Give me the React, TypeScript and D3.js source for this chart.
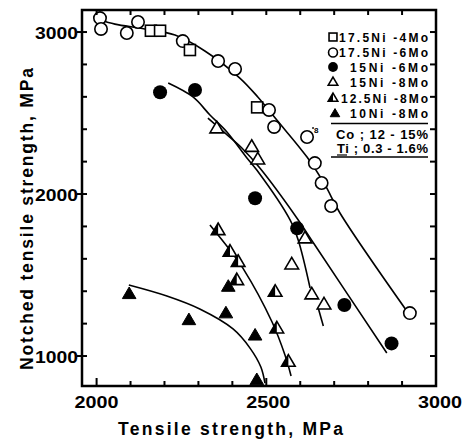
import React from "react";
import * as d3 from "d3";

type P = [number, number];

// ---- data (Tensile strength MPa, Notched tensile strength MPa) ----
const ni175Mo4: P[] = [[2160, 3008], [2187, 3008], [2275, 2889], [2473, 2535]];
const ni175Mo6: P[] = [
  [2010, 3086], [2013, 3019], [2089, 2994], [2122, 3062], [2254, 2944], [2358, 2821],
  [2408, 2772], [2508, 2519], [2523, 2414], [2620, 2352], [2643, 2191], [2663, 2068],
  [2691, 1926], [2923, 1265],
];
const ni15Mo6: P[] = [[2187, 2628], [2290, 2642], [2467, 1974], [2591, 1788], [2730, 1315], [2869, 1078]];
const ni15Mo8: P[] = [[2354, 2406], [2457, 2292], [2475, 2214], [2614, 1727], [2575, 1566], [2634, 1381], [2670, 1319]];
const ni125Mo8: P[] = [[2358, 1778], [2393, 1644], [2417, 1582], [2413, 1469], [2526, 1397], [2531, 1171], [2565, 965]];
const ni10Mo8: P[] = [[2096, 1383], [2272, 1222], [2381, 1264], [2388, 1428], [2467, 1127], [2472, 852]];

// fitted trend curves
const curve175: P[] = [
  [2010, 3074], [2054, 3049], [2142, 3019], [2231, 2981], [2319, 2883], [2422, 2716],
  [2475, 2599], [2531, 2457], [2620, 2228], [2673, 2056], [2717, 1883], [2915, 1275],
];
const curveA: P[] = [
  [2211, 2685], [2284, 2599], [2334, 2488], [2384, 2383], [2443, 2222], [2472, 2148],
  [2570, 1840], [2594, 1716], [2629, 1420],
];
const curveATail: P[] = [[2653, 1296], [2668, 1185]];
const curveB: P[] = [[2328, 2469], [2378, 2377], [2428, 2284], [2481, 2160], [2590, 1852], [2643, 1685], [2855, 1019]];
const curveC: P[] = [[2334, 1809], [2393, 1654], [2431, 1543], [2517, 1210], [2555, 1006], [2573, 877]];
const curveD: P[] = [[2095, 1438], [2207, 1370], [2304, 1290], [2402, 1167], [2452, 1049], [2484, 932], [2496, 833]];

const xLabelTicks = [2000, 2500, 3000];
const yLabelTicks = [1000, 2000, 3000];
const xMinorTicks = [2000, 2100, 2200, 2300, 2400, 2500, 2600, 2700, 2800, 2900];
const yMinorTicks = [1000, 1200, 1400, 1600, 1800, 2000, 2200, 2400, 2600, 2800, 3000];

const legendLabels = ["17.5Ni -4Mo", "17.5Ni -6Mo", "15Ni -6Mo", "15Ni -8Mo", "12.5Ni -8Mo", "10Ni -8Mo"];
const noteLabels = ["Co ; 12 - 15%", "Ti ; 0.3 - 1.6%"];

const FONT = "'Liberation Sans', Arial, Helvetica, sans-serif";

type Kind = "square" | "circle" | "dot" | "tri" | "halftri" | "filltri";

function Marker({ cx, cy, kind, s = 1 }: { cx: number; cy: number; kind: Kind; s?: number }) {
  const sw = 1.6;
  if (kind === "square") {
    const h = 5.5 * s;
    return <rect x={cx - h} y={cy - h} width={2 * h} height={2 * h} fill="#fff" stroke="#000" strokeWidth={sw} />;
  }
  if (kind === "circle") return <circle cx={cx} cy={cy} r={6.2 * s} fill="#fff" stroke="#000" strokeWidth={sw} />;
  if (kind === "dot") return <circle cx={cx} cy={cy} r={7 * s} fill="#000" />;
  const t = `M${cx},${cy - 7 * s}L${cx + 6.8 * s},${cy + 4.6 * s}L${cx - 6.8 * s},${cy + 4.6 * s}Z`;
  if (kind === "tri") return <path d={t} fill="#fff" stroke="#000" strokeWidth={sw} strokeLinejoin="miter" />;
  if (kind === "filltri") return <path d={t} fill="#000" stroke="#000" strokeWidth={1} />;
  const half = `M${cx},${cy - 7 * s}L${cx},${cy + 4.6 * s}L${cx - 6.8 * s},${cy + 4.6 * s}Z`;
  return (
    <g>
      <path d={t} fill="#fff" stroke="#000" strokeWidth={sw} />
      <path d={half} fill="#000" />
    </g>
  );
}

export default function App() {
  const W = 468, H = 443;
  const left = 82, right = 436, top = 10, bottom = 386;
  const x = d3.scaleLinear().domain([1957, 3000]).range([left, right]);
  const y = d3.scaleLinear().domain([815, 3136]).range([bottom, top]);
  const line = d3.line<P>().x((d) => x(d[0])).y((d) => y(d[1])).curve(d3.curveCatmullRom.alpha(0.5));

  const series: { data: P[]; kind: Kind }[] = [
    { data: ni175Mo6, kind: "circle" },
    { data: ni175Mo4, kind: "square" },
    { data: ni15Mo6, kind: "dot" },
    { data: ni15Mo8, kind: "tri" },
    { data: ni125Mo8, kind: "halftri" },
    { data: ni10Mo8, kind: "filltri" },
  ];
  const legendKinds: Kind[] = ["square", "circle", "dot", "tri", "halftri", "filltri"];
  const legendRows = [
    { base: 41.5, x0: 339, len: 89 },
    { base: 57, x0: 339, len: 89 },
    { base: 71.5, x0: 350, len: 78 },
    { base: 86.5, x0: 350, len: 78 },
    { base: 102.5, x0: 341, len: 87 },
    { base: 118, x0: 350, len: 78 },
  ];

  return (
    <svg width={W} height={H} style={{ position: "absolute", left: 0, top: 0, background: "#fff" }} fontFamily={FONT}>
      <rect x={0} y={0} width={W} height={H} fill="#fff" />
      {/* curves */}
      <g fill="none" stroke="#000" strokeWidth={1.6}>
        <path d={line(curve175) || ""} />
        <path d={line(curveA) || ""} />
        <path d={line(curveATail) || ""} />
        <path d={line(curveB) || ""} />
        <path d={line(curveC) || ""} />
        <path d={line(curveD) || ""} />
      </g>
      {/* markers */}
      {series.map((s, i) => (
        <g key={i}>
          {s.data.map((d, j) => (
            <Marker key={j} cx={x(d[0])} cy={y(d[1])} kind={s.kind} />
          ))}
        </g>
      ))}
      {/* small note mark */}
      <text x={x(2620) + 7} y={y(2352) - 4} fontSize={8} fontWeight="bold">8</text>
      <circle cx={x(2620) + 6} cy={y(2352) - 9} r={0.9} fill="#000" />

      {/* frame */}
      <rect x={left} y={top} width={right - left} height={bottom - top} fill="none" stroke="#000" strokeWidth={2.5} />
      {/* ticks */}
      <g stroke="#000" strokeWidth={2}>
        {xMinorTicks.map((v) => (
          <g key={"xt" + v}>
            <line x1={x(v)} x2={x(v)} y1={bottom} y2={bottom - (xLabelTicks.includes(v) ? 8 : 5)} />
            <line x1={x(v)} x2={x(v)} y1={top} y2={top + 5} />
          </g>
        ))}
        {yMinorTicks.map((v) => (
          <g key={"yt" + v}>
            <line x1={yLabelTicks.includes(v) ? left - 5 : left} x2={left + 5} y1={y(v)} y2={y(v)} />
            <line x1={right} x2={right - 6} y1={y(v)} y2={y(v)} />
          </g>
        ))}
      </g>
      {/* tick labels */}
      <g fontSize={17} fontWeight="bold">
        {xLabelTicks.map((v) => (
          <text key={"xl" + v} x={x(v) + (v === 3000 ? 4 : v === 2500 ? 2 : 0)} y={408} textAnchor="middle" textLength={44} lengthAdjust="spacingAndGlyphs">
            {v}
          </text>
        ))}
        {yLabelTicks.map((v) => (
          <text key={"yl" + v} x={78} y={y(v) + 6.5} textAnchor="end" textLength={43} lengthAdjust="spacingAndGlyphs">
            {v}
          </text>
        ))}
      </g>
      {/* axis titles */}
      <text x={118} y={435} fontSize={17.5} fontWeight="bold" textLength={225} lengthAdjust="spacing">
        Tensile strength, MPa
      </text>
      <text
        transform={`translate(33,${(68 + 370) / 2}) rotate(-90)`}
        textAnchor="middle"
        fontSize={17.5}
        fontWeight="bold"
        textLength={302}
        lengthAdjust="spacing"
      >
        Notched tensile strength, MPa
      </text>

      {/* legend */}
      <g fontSize={12} fontWeight="bold">
        {legendLabels.map((lab, i) => (
          <g key={lab}>
            <Marker cx={i === 5 ? 335 : 333} cy={legendRows[i].base - 4.5} kind={legendKinds[i]} s={i < 2 ? 0.72 : 0.7} />
            <text x={legendRows[i].x0} y={legendRows[i].base} textLength={legendRows[i].len} lengthAdjust="spacing">
              {lab}
            </text>
          </g>
        ))}
        <line x1={331} x2={428} y1={123.5} y2={123.5} stroke="#000" strokeWidth={1.5} />
        <text x={336} y={139} fontSize={13} textLength={92} lengthAdjust="spacing">{noteLabels[0]}</text>
        <text x={337} y={153} fontSize={13} textLength={91} lengthAdjust="spacing">{noteLabels[1]}</text>
        <line x1={337} x2={347} y1={155} y2={155} stroke="#000" strokeWidth={1.2} />
        <line x1={331} x2={428} y1={157} y2={157} stroke="#000" strokeWidth={1.5} />
      </g>
    </svg>
  );
}
